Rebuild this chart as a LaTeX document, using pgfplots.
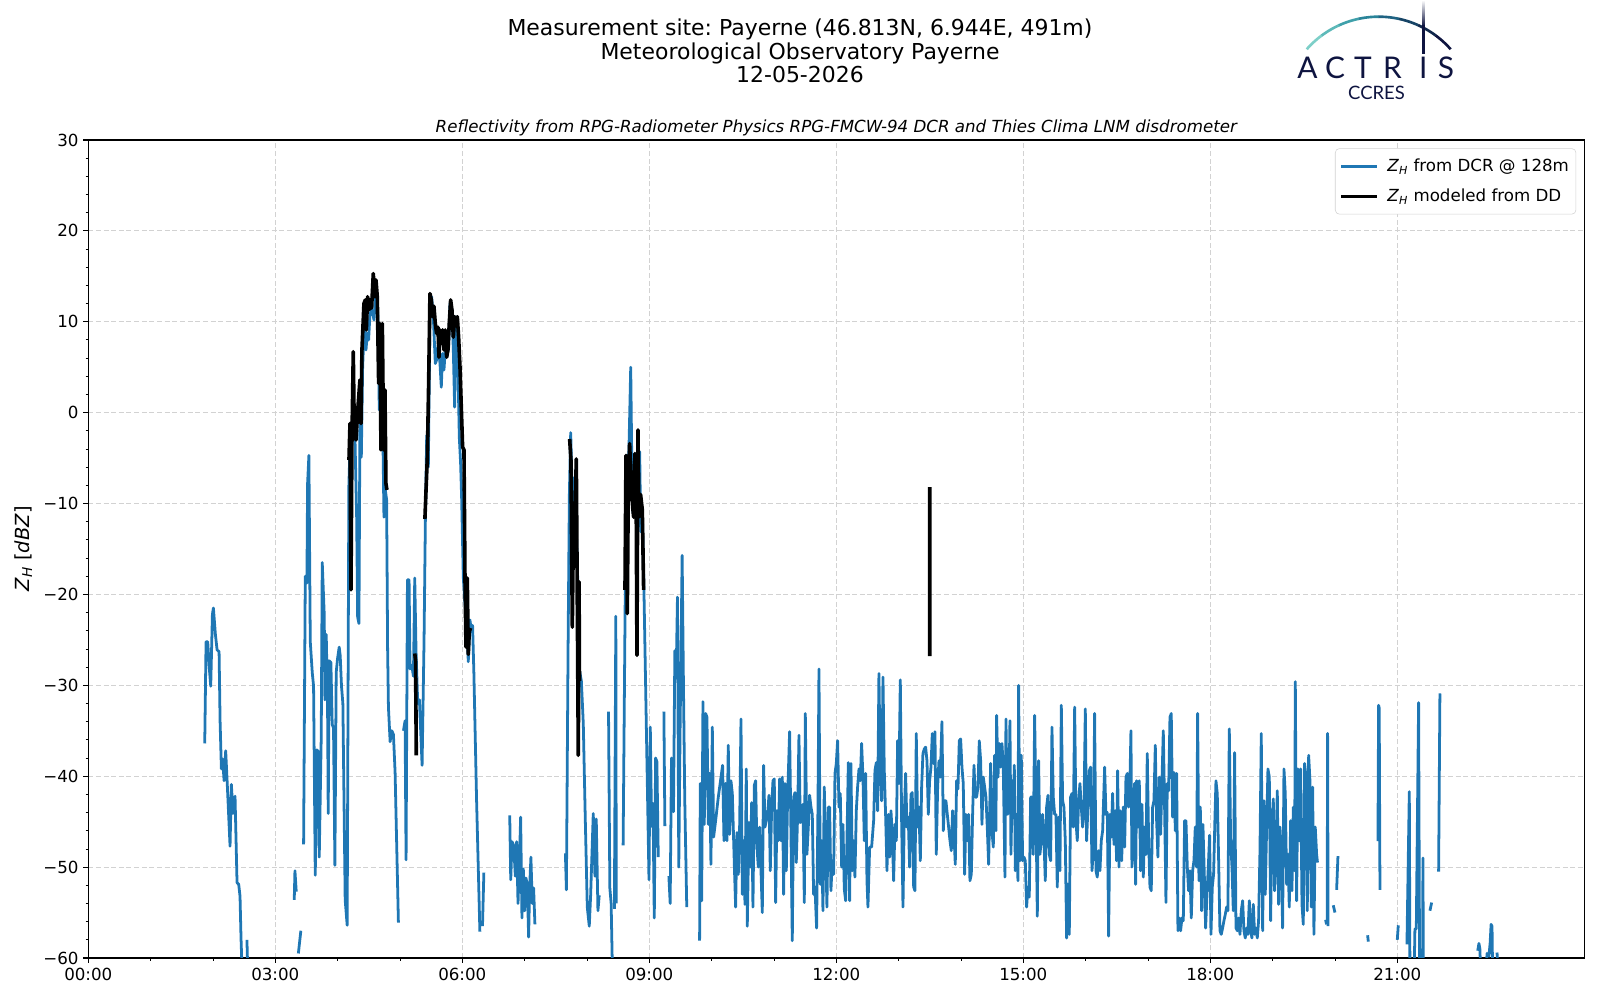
\documentclass[border=0pt]{standalone}
\usepackage{fontspec}
\setmainfont{DejaVu Sans}
\newfontfamily\logofont{Lato}
\usepackage{pgfplots}
\pgfplotsset{compat=1.18}
\frenchspacing
\definecolor{mplblue}{HTML}{1F77B4}
\definecolor{navy}{HTML}{0E1440}
\definecolor{ca}{HTML}{7DCFC8}
\definecolor{cb}{HTML}{5DB9B9}
\definecolor{cc}{HTML}{3FA0AA}
\definecolor{cd}{HTML}{2A8499}
\definecolor{ce}{HTML}{1F6383}
\definecolor{cf}{HTML}{174466}
\definecolor{cg}{HTML}{10284C}
\definecolor{ch}{HTML}{0E1440}
\begin{document}
\begin{tikzpicture}
\useasboundingbox (0,0) rectangle (1152pt,720pt);
\begin{axis}[
  at={(63.58pt,30.24pt)}, anchor=south west,
  width=1077.1pt, height=589.0pt, scale only axis,
  xmin=0, xmax=24, ymin=-60, ymax=30,
  xtick={0,3,...,21},
  xticklabels={00:00,03:00,06:00,09:00,12:00,15:00,18:00,21:00},
  minor x tick num=2,
  ytick={-60,-50,-40,-30,-20,-10,0,10,20,30},
  yticklabels={−60,−50,−40,−30,−20,−10,0,10,20,30},
  minor y tick num=4,
  tick pos=left, tick align=outside,
  major tick length=3.5pt, minor tick length=2pt,
  major tick style={line width=0.8pt, black},
  minor tick style={line width=0.6pt, black},
  axis line style={line width=0.8pt},
  tick label style={font=\fontsize{12}{14}\selectfont},
  grid=major,
  major grid style={draw=gray!35, line width=0.8pt, dash pattern=on 3.6pt off 1.9pt},
  unbounded coords=jump,
  ylabel={\textit{Z}\textsubscript{\textit{H}} [\textit{dBZ}]},
  every axis y label/.style={at={(axis description cs:0,0.5)}, xshift=-46.8pt, rotate=90, anchor=center, font=\fontsize{14}{16}\selectfont},
  legend style={at={(1,1)}, anchor=north east, xshift=-5.8pt, yshift=-6.0pt,
    draw=gray!35, rounded corners=3pt, fill=white,
    font=\fontsize{12}{14.4}\selectfont, inner xsep=3.0pt, inner ysep=5.5pt, row sep=7pt},
  legend cell align=left,
  legend image code/.code={\draw[#1] (0pt,0pt) -- (25.5pt,0pt); \path (30pt,0pt);},
]
\addplot[mplblue, line width=2.0pt, line join=round] coordinates {
(1.868,-36.4)(1.889,-25.2)(1.916,-25.2)(1.938,-27.8)(1.964,-30.1)(1.991,-22.2)(2.007,-21.5)(2.039,-24.4)(2.066,-26.1)(2.098,-26.3)(2.114,-33.9)(2.135,-39.2)(2.156,-38.1)(2.178,-40.5)(2.204,-37.2)(2.231,-41.1)(2.274,-47.7)(2.295,-40.9)(2.322,-44.1)(2.354,-42.2)(2.386,-51.7)(2.413,-51.9)(2.434,-53.2)(2.450,-57.8)(2.47,-62)
(2.5,nan)
(2.545,-58)(2.56,-62)
(3.0,nan)
(3.304,-53.6)(3.315,-50.4)(3.336,-52.7)
(3.35,nan)
(3.37,-59.5)(3.41,-57.0)
(3.43,nan)
(3.454,-47.5)(3.481,-18.0)(3.507,-18.75)(3.518,-7.8)(3.539,-4.7)(3.561,-25.2)(3.593,-28.6)(3.614,-30.1)(3.641,-50.9)(3.667,-37.1)(3.689,-37.3)(3.705,-48.9)(3.737,-35.6)(3.753,-16.5)(3.785,-22.2)(3.796,-31.6)(3.817,-24.4)(3.838,-31.8)(3.849,-44.1)(3.865,-27.3)(3.892,-27.5)(3.913,-34.3)(3.934,-34.7)(3.956,-49.8)(3.977,-28.6)(3.998,-27.1)(4.025,-25.8)(4.041,-26.7)(4.062,-30.1)(4.084,-32.0)(4.121,-53.6)(4.153,-56.4)(4.18,-8.1)(4.209,-1.2)(4.278,-2.7)(4.305,-11.5)(4.321,-22.5)(4.342,-23.2)(4.358,-0.5)(4.380,-4.9)(4.401,5.0)(4.433,10.6)(4.455,6.9)(4.476,8.7)(4.497,8.0)(4.519,10.9)(4.551,11.3)(4.583,10.2)(4.615,13.5)(4.647,10.6)(4.668,0.3)(4.690,6.9)(4.722,-0.5)(4.743,-11.5)(4.765,-8.5)(4.786,-9.6)(4.802,-26.1)(4.815,-32.4)(4.842,-36.2)(4.869,-35.0)(4.895,-35.4)(4.922,-39.6)(4.975,-56.1)
(5.0,nan)
(5.056,-35.0)(5.082,-33.9)(5.098,-49.2)(5.12,-18.4)(5.146,-18.4)(5.162,-28.2)(5.189,-27.8)(5.216,-29.0)(5.237,-18.2)(5.258,-26.3)(5.285,-32.0)(5.312,-31.6)(5.355,-38.8)(5.386,-25.2)(5.408,-11.6)(5.429,-2.5)(5.455,-6.0)(5.481,10.55)(5.508,12.75)(5.535,10.55)(5.567,5.4)(5.588,5.8)(5.615,7.6)(5.642,5.4)(5.663,2.8)(5.684,6.5)(5.706,4.7)(5.727,6.9)(5.749,6.1)(5.781,7.2)(5.802,12.0)(5.834,11.3)(5.856,6.9)(5.877,0.6)(5.898,10.55)(5.93,5.0)(5.952,-2.7)(5.973,-5.6)(5.989,-9.3)(6.016,-18.1)(6.043,-21.0)(6.07,-23.2)(6.096,-27.4)(6.122,-22.8)(6.149,-24.1)(6.165,-23.4)(6.186,-28.7)(6.229,-42.6)(6.282,-57.1)
(6.30,nan)
(6.324,-56.5)(6.346,-50.6)
(6.5,nan)
(6.761,-44.3)(6.777,-51.4)(6.798,-47.2)(6.824,-47.6)(6.851,-51.0)(6.872,-47.2)(6.894,-54.0)(6.915,-49.7)(6.936,-44.5)(6.957,-55.6)(6.979,-50.2)(7.0,-54.8)(7.021,-51.2)(7.043,-51.9)(7.064,-57.7)(7.08,-52.3)(7.101,-48.9)(7.122,-54.0)(7.144,-52.3)(7.165,-56.3)
(7.3,nan)
(7.654,-48.5)(7.67,-52.5)(7.697,-25.8)(7.718,-8.9)(7.739,-2.2)(7.761,-8.1)(7.782,-7.2)(7.803,-12.3)(7.824,-11.4)(7.851,-18.2)(7.878,-28.3)(7.91,-29.5)(7.941,-34.2)(7.973,-44.7)(8.005,-54.4)(8.037,-56.5)(8.059,-53.1)(8.101,-44.1)(8.128,-51.0)(8.149,-44.7)(8.176,-54.8)(8.197,-53.1)
(8.25,nan)
(8.346,-32.9)(8.367,-52.3)(8.388,-54.0)(8.41,-62)
(8.42,nan)
(8.44,-54.6)(8.463,-22.4)(8.47,-54.0)
(8.5,nan)
(8.58,-47.6)(8.612,-21.5)(8.633,-4.7)(8.66,-8.0)(8.68,-2.0)(8.702,5.0)(8.718,-4.7)(8.739,-11.0)(8.761,-9.8)(8.793,-10.6)(8.824,-4.7)(8.846,-4.3)(8.862,-13.1)(8.888,-10.6)(8.915,-19.9)(8.941,-30.0)(8.973,-42.6)(8.995,-51.4)(9.016,-34.6)(9.037,-45.5)(9.059,-43.0)(9.08,-55.6)(9.101,-38.0)(9.122,-38.4)(9.144,-48.9)
(9.2,nan)
(9.234,-32.9)(9.25,-45.5)
(9.28,nan)
(9.314,-51.0)(9.335,-54.0)(9.356,-38.0)(9.388,-43.9)(9.41,-26.2)(9.431,-29.1)(9.452,-20.3)(9.473,-50.0)(9.495,-34.2)(9.527,-15.7)(9.548,-30.0)(9.569,-42.6)(9.601,-54.4)
(9.7,nan)
(9.807,-58.1)(9.818,-40.8)(9.840,-53.7)(9.861,-31.8)(9.882,-45.3)(9.904,-33.1)(9.925,-33.5)(9.947,-45.3)(9.968,-39.7)(9.989,-49.7)(10.011,-34.6)(10.032,-46.7)(10.064,-44.9)(10.107,-42.3)(10.176,-38.8)(10.198,-47.1)(10.225,-40.8)(10.246,-47.1)(10.267,-36.6)(10.289,-46.4)(10.310,-40.5)(10.332,-41.9)(10.364,-49.7)(10.385,-54.4)(10.406,-46.2)(10.428,-50.8)(10.449,-45.6)(10.471,-33.7)(10.492,-53.0)(10.513,-47.1)(10.535,-54.1)(10.556,-39.2)(10.572,-56.5)(10.599,-45.1)(10.620,-50.0)(10.642,-42.9)(10.663,-54.4)(10.685,-41.0)(10.706,-40.5)(10.727,-47.8)(10.749,-50.0)(10.770,-45.6)(10.791,-50.2)(10.813,-55.0)(10.834,-38.8)(10.856,-45.6)(10.877,-44.9)(10.898,-44.2)(10.920,-42.1)(10.941,-50.4)(10.963,-43.4)(10.984,-40.5)(11.005,-40.3)(11.027,-53.9)(11.048,-43.8)(11.070,-47.1)(11.091,-40.3)(11.112,-47.1)(11.134,-40.1)(11.155,-53.0)(11.176,-40.8)(11.198,-50.4)(11.219,-42.3)(11.251,-35.1)(11.273,-46.4)(11.294,-58.1)(11.316,-42.3)(11.337,-41.8)(11.358,-49.5)(11.380,-44.2)(11.401,-35.5)(11.422,-45.1)(11.444,-44.9)(11.465,-43.1)(11.487,-53.9)(11.503,-33.1)(11.529,-48.6)(11.551,-45.6)(11.572,-42.1)(11.594,-43.4)(11.615,-44.2)(11.636,-53.0)(11.658,-52.2)(11.684,-56.7)(11.706,-43.4)(11.722,-28.2)(11.743,-51.9)(11.765,-47.1)(11.786,-54.8)(11.807,-41.2)(11.829,-47.5)(11.850,-54.4)(11.872,-43.4)(11.893,-43.4)(11.914,-52.6)(11.936,-49.3)(11.957,-50.8)(11.979,-39.7)(12.000,-38.6)(12.021,-36.1)(12.043,-43.4)(12.064,-41.9)(12.086,-50.0)(12.107,-45.3)(12.128,-52.4)(12.150,-53.7)(12.171,-47.1)(12.193,-38.5)(12.214,-53.7)(12.235,-38.6)(12.257,-50.4)(12.278,-47.1)(12.299,-51.1)(12.321,-43.8)(12.342,-41.2)(12.364,-39.2)(12.385,-40.5)(12.406,-36.4)(12.428,-40.1)(12.449,-47.1)(12.471,-39.7)(12.492,-51.5)(12.508,-54.4)(12.535,-47.8)(12.567,-47.8)(12.599,-44.9)(12.620,-39.4)(12.642,-38.5)(12.663,-43.8)(12.684,-28.7)(12.706,-39.7)(12.727,-42.7)(12.749,-29.1)(12.770,-39.4)(12.791,-44.2)(12.813,-50.4)(12.834,-44.2)(12.856,-48.9)(12.877,-43.8)(12.898,-46.4)(12.920,-51.5)(12.941,-45.3)(12.963,-47.1)(12.984,-36.1)(13.005,-40.8)(13.027,-29.4)(13.048,-44.9)(13.070,-54.4)(13.091,-44.2)(13.112,-39.7)(13.134,-45.6)(13.155,-44.5)(13.176,-50.0)(13.198,-42.0)(13.219,-41.8)(13.241,-52.2)(13.262,-52.6)(13.283,-35.3)(13.305,-45.6)(13.326,-43.4)(13.348,-49.3)(13.369,-41.2)(13.390,-37.5)(13.412,-37.0)(13.433,-36.8)(13.455,-38.3)(13.476,-44.2)(13.497,-40.5)(13.519,-39.0)(13.540,-35.3)(13.561,-38.6)(13.583,-35.1)(13.604,-48.6)(13.626,-41.2)(13.647,-38.3)(13.668,-40.1)(13.695,-34.0)(13.717,-46.0)(13.738,-42.7)(13.759,-42.7)(13.781,-44.2)(13.802,-45.6)(13.824,-47.1)(13.845,-48.2)(13.866,-43.8)(13.888,-46.4)(13.909,-49.7)(13.930,-40.5)(13.952,-41.4)(13.973,-36.1)(13.995,-35.9)(14.016,-39.0)(14.037,-40.8)(14.059,-50.8)(14.080,-44.2)(14.102,-47.1)(14.123,-44.2)(14.144,-51.5)(14.166,-50.8)(14.187,-44.2)(14.209,-38.8)(14.230,-42.3)(14.251,-42.3)(14.273,-41.2)(14.294,-36.1)(14.316,-38.3)(14.337,-45.3)(14.358,-40.1)(14.380,-41.2)(14.401,-42.3)(14.422,-45.6)(14.444,-49.7)
(14.476,-38.6)(14.497,-46.0)(14.519,-47.8)(14.540,-37.7)(14.561,-46.0)(14.572,-33.3)(14.594,-40.1)(14.615,-36.4)(14.636,-39.0)(14.658,-36.4)(14.679,-39.0)(14.706,-51.1)(14.722,-33.7)(14.743,-44.2)(14.765,-44.0)(14.786,-33.9)(14.802,-48.6)(14.824,-40.5)(14.840,-44.2)(14.856,-38.8)(14.872,-50.4)(14.893,-44.2)(14.914,-51.5)(14.925,-30.0)(14.947,-49.3)(14.968,-37.7)(14.989,-49.3)(15.011,-48.9)(15.032,-49.3)(15.053,-54.4)(15.075,-52.2)(15.096,-53.3)(15.118,-42.3)(15.139,-42.3)(15.160,-48.6)(15.182,-33.3)(15.203,-43.4)(15.225,-55.4)(15.246,-38.3)(15.267,-48.6)(15.289,-47.1)(15.310,-44.2)(15.332,-47.1)(15.353,-51.5)(15.374,-43.4)(15.396,-42.1)(15.417,-48.6)(15.439,-49.3)(15.460,-34.6)(15.481,-42.3)(15.503,-44.2)(15.524,-44.2)(15.545,-52.2)(15.567,-44.5)(15.588,-50.4)(15.610,-32.2)(15.631,-42.7)(15.652,-43.4)(15.674,-47.1)(15.695,-57.8)(15.717,-51.9)(15.738,-57.4)(15.759,-42.3)(15.781,-41.9)(15.802,-45.6)(15.824,-32.4)(15.845,-44.9)(15.866,-47.1)(15.888,-42.7)(15.909,-40.8)(15.930,-43.4)(15.952,-45.6)(15.973,-44.2)(15.995,-32.6)(16.016,-47.1)(16.037,-43.4)(16.059,-39.4)(16.080,-39.0)(16.102,-50.4)(16.123,-48.2)(16.144,-33.1)(16.166,-50.4)(16.187,-51.1)(16.209,-48.2)(16.230,-50.4)(16.251,-47.1)(16.273,-46.0)(16.305,-39.0)(16.326,-44.2)(16.348,-44.0)(16.369,-57.6)(16.390,-44.2)(16.412,-46.7)(16.433,-41.9)(16.455,-47.5)(16.476,-43.8)(16.497,-49.3)(16.513,-39.4)(16.535,-50.0)(16.556,-43.8)(16.578,-49.3)(16.604,-43.4)(16.626,-47.8)(16.647,-40.1)(16.668,-39.7)(16.690,-43.4)(16.711,-40.5)(16.727,-35.0)(16.743,-50.0)(16.765,-47.5)(16.786,-40.8)(16.802,-51.9)(16.818,-40.5)(16.840,-45.6)(16.861,-40.5)(16.882,-50.4)(16.904,-43.1)(16.925,-51.1)(16.947,-45.6)(16.968,-48.6)(16.989,-37.5)(17.011,-47.1)(17.032,-52.2)(17.053,-52.6)(17.075,-43.4)(17.096,-42.7)(17.118,-36.6)(17.139,-44.9)(17.160,-48.9)(17.182,-40.1)(17.203,-46.4)(17.225,-40.5)(17.246,-35.0)(17.267,-43.4)(17.289,-53.9)(17.310,-40.8)(17.332,-41.6)(17.353,-33.5)(17.374,-33.1)(17.396,-44.5)(17.417,-39.6)(17.439,-46.0)(17.460,-39.7)(17.481,-57.0)(17.503,-55.6)(17.524,-57.0)(17.545,-55.6)(17.567,-55.9)(17.588,-44.9)(17.610,-44.9)(17.631,-50.0)(17.652,-52.6)(17.674,-50.4)(17.695,-55.6)(17.717,-50.4)(17.738,-49.3)(17.759,-45.6)(17.781,-50.0)(17.797,-33.1)(17.818,-51.5)(17.840,-43.4)(17.861,-54.8)(17.882,-45.3)(17.904,-50.8)(17.925,-56.7)(17.947,-53.0)(17.968,-50.0)(17.989,-46.5)(18.011,-57.4)(18.032,-52.2)(18.053,-50.8)(18.075,-44.5)(18.091,-40.5)(18.112,-41.9)(18.134,-49.3)(18.155,-57.0)(18.176,-57.4)(18.198,-56.7)(18.219,-55.9)(18.241,-55.2)(18.262,-54.4)(18.283,-54.8)(18.305,-34.8)(18.326,-47.1)(18.348,-50.0)(18.369,-54.8)(18.390,-37.4)(18.412,-56.7)(18.433,-57.0)(18.455,-55.6)(18.476,-57.4)(18.497,-54.8)(18.519,-53.7)(18.540,-57.0)(18.561,-57.8)(18.583,-56.7)(18.604,-57.4)(18.626,-53.7)(18.647,-57.0)(18.668,-57.8)(18.690,-54.1)(18.711,-57.4)(18.733,-56.7)(18.754,-57.8)(18.775,-55.9)(18.797,-48.2)(18.818,-35.3)(18.840,-57.0)(18.861,-42.7)(18.882,-53.0)(18.904,-45.6)(18.925,-39.2)(18.947,-40.1)(18.968,-55.9)(18.989,-45.6)(19.011,-42.5)(19.032,-52.6)(19.053,-48.6)(19.075,-41.6)(19.096,-54.1)(19.118,-45.6)(19.139,-48.6)(19.160,-56.7)(19.182,-39.2)(19.203,-41.9)(19.225,-51.9)(19.246,-48.6)(19.267,-54.4)(19.289,-44.9)(19.310,-52.6)(19.332,-43.4)(19.353,-50.4)(19.364,-29.6)(19.385,-53.7)(19.406,-39.2)(19.428,-47.1)(19.449,-39.2)(19.471,-54.1)(19.492,-56.3)(19.513,-38.6)(19.535,-40.1)(19.556,-54.8)(19.578,-37.7)(19.599,-40.5)(19.620,-54.4)(19.642,-41.2)(19.663,-57.4)(19.684,-45.6)(19.706,-48.6)(19.72,-49.5)
(19.8,nan)
(19.85,-55.8)(19.865,-56.3)
(19.87,nan)
(19.875,-56.0)(19.882,-35.3)(19.89,-56.5)
(19.93,nan)
(19.973,-54.2)(20.0,-55.0)
(20.01,nan)
(20.027,-52.5)(20.048,-48.8)
(20.3,nan)
(20.524,-57.5)(20.535,-58.2)
(20.6,nan)
(20.668,-47.0)(20.69,-47.0)(20.70,-32.2)(20.71,-32.5)(20.722,-52.5)
(20.9,nan)
(21.0,-58.0)(21.016,-56.4)
(21.1,nan)
(21.155,-58.5)(21.166,-53.6)(21.193,-41.7)(21.203,-62)
(21.23,nan)
(21.27,-62)(21.283,-56.8)(21.305,-56.8)(21.342,-31.9)(21.358,-62)
(21.38,nan)
(21.405,-62)(21.412,-49.0)(21.418,-62)
(21.45,nan)
(21.524,-54.8)(21.551,-53.9)
(21.6,nan)
(21.663,-50.5)(21.684,-30.9)
(22.0,nan)
(22.29,-59.2)(22.31,-58.4)(22.325,-59.0)(22.34,-62)
(22.38,nan)
(22.42,-62)(22.44,-59.5)(22.47,-59.8)(22.49,-58.3)(22.505,-56.3)(22.52,-56.5)(22.53,-62)
(22.56,nan)
(22.60,-59.4)(22.61,-60.5)
};
\addlegendentry{\textit{Z}\textsubscript{\textit{H}} from DCR @ 128m}
\addplot[black, line width=2.6pt, line join=round] coordinates {
(4.182,-5.2)(4.198,-1.2)(4.214,-19.5)(4.23,-2.7)(4.251,6.7)(4.267,-1.9)(4.294,-3.0)(4.325,0.5)(4.358,3.6)(4.374,-1.2)(4.39,6.9)(4.422,12.0)(4.444,12.4)(4.46,9.1)(4.481,12.75)(4.503,11.3)(4.519,12.4)(4.545,11.5)(4.572,15.3)(4.594,12.75)(4.615,14.6)(4.636,12.75)(4.658,3.2)(4.679,9.8)(4.695,-4.1)(4.717,9.8)(4.738,-4.1)(4.759,2.5)(4.775,-7.8)(4.791,-8.5)
(4.9,nan)
(5.237,-26.5)(5.25,-27.2)(5.262,-37.7)
(5.3,nan)
(5.40,-11.7)(5.439,-4.9)(5.46,3.2)(5.481,13.1)(5.503,12.4)(5.524,10.55)(5.545,11.7)(5.567,9.8)(5.588,8.7)(5.61,9.4)(5.626,6.1)(5.642,9.1)(5.663,7.6)(5.684,9.1)(5.706,6.9)(5.727,9.1)(5.749,6.1)(5.77,6.9)(5.791,9.8)(5.813,12.4)(5.834,11.3)(5.856,8.3)(5.877,10.55)(5.898,10.2)(5.92,10.55)(5.941,8.3)(5.963,5.0)(5.984,0.6)(6.005,-3.8)(6.027,-4.1)(6.043,-18.2)(6.059,-25.8)(6.08,-18.2)(6.096,-26.6)(6.112,-24.1)(6.133,-23.7)
(7.0,nan)
(7.722,-2.9)(7.743,-5.2)(7.765,-23.6)(7.786,-10.4)(7.807,-11.5)(7.829,-5.1)(7.85,-26.1)(7.861,-37.7)(7.873,-18.6)(7.88,-29.5)
(8.0,nan)
(8.61,-19.5)(8.626,-4.7)(8.647,-22.1)(8.663,-8.5)(8.684,-3.4)(8.706,-7.1)(8.733,-10.4)(8.749,-11.5)(8.77,-4.5)(8.791,-11.5)(8.802,-26.7)(8.818,-1.9)(8.834,-11.5)(8.86,-9.0)(8.888,-10.7)(8.909,-19.5)
(9.5,nan)
(13.50,-8.2)(13.50,-26.8)
};
\addlegendentry{\textit{Z}\textsubscript{\textit{H}} modeled from DD}
\end{axis}
\begin{scope}[yshift=720pt, x=0.72pt, y=-0.72pt]
\node[anchor=base, font=\fontsize{15.8}{19}\selectfont, inner sep=0] at (800,36) {Measurement site: Payerne (46.813N, 6.944E, 491m)};
\node[anchor=base, font=\fontsize{15.8}{19}\selectfont, inner sep=0] at (800,59.3) {Meteorological Observatory Payerne};
\node[anchor=base, font=\fontsize{15.8}{19}\selectfont, inner sep=0] at (800,82.7) {12-05-2026};
\node[anchor=base, font=\itshape\fontsize{12}{14}\selectfont, inner sep=0] at (836.3,132.3) {Reflectivity from RPG-Radiometer Physics RPG-FMCW-94 DCR and Thies Clima LNM disdrometer};
% logo
\foreach \a/\b/\c in {-138.7/-126.5/ca, -126.6/-114.3/cb, -114.4/-102.1/cc, -102.2/-89.9/cd, -90.0/-77.8/ce, -77.9/-65.6/cf, -65.7/-53.4/cg, -53.5/-41.3/ch}{
  \draw[line width=1.9pt, color=\c] plot[variable=\t, domain=\a:\b, samples=8, smooth] ({1378.7+95.8*cos(\t)},{112.5+95.8*sin(\t)});
}
\shade[top color=white, bottom color=navy] (1422,0) rectangle (1424.6,26);
\fill[navy] (1422,25.5) rectangle (1424.6,54);
\foreach \l/\xx in {A/1307.5, C/1335, T/1363, R/1392.5, I/1423.3, S/1446}{
  \node[anchor=base, font=\logofont\fontsize{21.5}{25}\selectfont, text=navy, inner sep=0] at (\xx,78.8) {\l};
}
\node[anchor=base, font=\logofont\fontsize{13.3}{16}\selectfont, text=navy, inner sep=0] at (1376.5,99.3) {CCRES};
\end{scope}
\end{tikzpicture}
\end{document}
